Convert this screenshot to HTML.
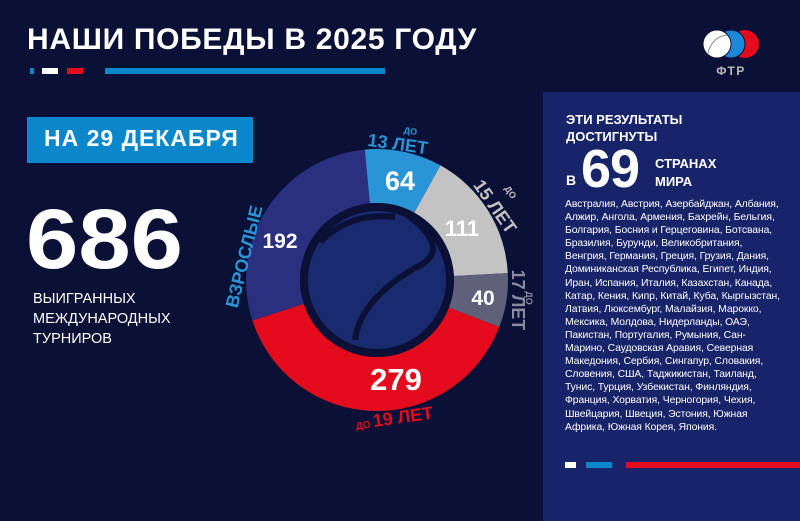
<!DOCTYPE html>
<html><head><meta charset="utf-8"><style>
html,body{margin:0;padding:0;}
body{width:800px;height:521px;background:#0b1036;position:relative;overflow:hidden;font-family:"Liberation Sans","DejaVu Sans",sans-serif;color:#fff;}
.a{position:absolute;white-space:nowrap;}
.cl{position:absolute;left:565px;top:198px;font-size:10.4px;line-height:13.1px;color:#fff;white-space:nowrap;letter-spacing:-0.1px;}
</style></head><body>
<div class="a" style="left:27px;top:23px;font-size:30px;font-weight:bold;letter-spacing:0.7px;">НАШИ ПОБЕДЫ В 2025 ГОДУ</div>
<div class="a" style="left:30px;top:68px;width:4px;height:6px;background:#0a87cb"></div>
<div class="a" style="left:42px;top:68px;width:16px;height:6px;background:#fff"></div>
<div class="a" style="left:67px;top:68px;width:16px;height:6px;background:#e30b1c"></div>
<div class="a" style="left:105px;top:68px;width:280px;height:6px;background:#0a87cb"></div>
<div class="a" style="left:27px;top:117px;width:226px;height:46px;background:#0a87cb"></div>
<div class="a" style="left:44px;top:125px;font-size:23px;font-weight:bold;letter-spacing:1px;">НА 29 ДЕКАБРЯ</div>
<div class="a" style="left:26px;top:194px;font-size:84px;font-weight:bold;line-height:90px;letter-spacing:0px;transform:scaleX(1.12);transform-origin:0 0;">686</div>
<div class="a" style="left:33px;top:289px;font-size:14.5px;line-height:20px;">ВЫИГРАННЫХ<br>МЕЖДУНАРОДНЫХ<br>ТУРНИРОВ</div>

<div class="a" style="left:543px;top:92px;width:257px;height:429px;background:#18246a"></div>
<div class="a" style="left:566px;top:111px;font-size:13px;font-weight:bold;line-height:17px;">ЭТИ РЕЗУЛЬТАТЫ<br>ДОСТИГНУТЫ</div>
<div class="a" style="left:566px;top:172px;font-size:14px;font-weight:bold;">В</div>
<div class="a" style="left:581px;top:138px;font-size:54px;font-weight:bold;letter-spacing:-1px;">69</div>
<div class="a" style="left:655px;top:155px;font-size:13px;font-weight:bold;line-height:18px;">СТРАНАХ<br>МИРА</div>
<div class="cl">Австралия, Австрия, Азербайджан, Албания,<br>Алжир, Ангола, Армения, Бахрейн, Бельгия,<br>Болгария, Босния и Герцеговина, Ботсвана,<br>Бразилия, Бурунди, Великобритания,<br>Венгрия, Германия, Греция, Грузия, Дания,<br>Доминиканская Республика, Египет, Индия,<br>Иран, Испания, Италия, Казахстан, Канада,<br>Катар, Кения, Кипр, Китай, Куба, Кыргызстан,<br>Латвия, Люксембург, Малайзия, Марокко,<br>Мексика, Молдова, Нидерланды, ОАЭ,<br>Пакистан, Португалия, Румыния, Сан-<br>Марино, Саудовская Аравия, Северная<br>Македония, Сербия, Сингапур, Словакия,<br>Словения, США, Таджикистан, Таиланд,<br>Тунис, Турция, Узбекистан, Финляндия,<br>Франция, Хорватия, Черногория, Чехия,<br>Швейцария, Швеция, Эстония, Южная<br>Африка, Южная Корея, Япония.</div>
<div class="a" style="left:565px;top:462px;width:11px;height:6px;background:#fff"></div>
<div class="a" style="left:586px;top:462px;width:26px;height:6px;background:#0a87cb"></div>
<div class="a" style="left:626px;top:462px;width:174px;height:6px;background:#e30b1c"></div>

<svg class="a" style="left:0;top:0" width="800" height="521" viewBox="0 0 800 521">
<g font-family="Liberation Sans, sans-serif" font-weight="bold">
<circle cx="745" cy="44" r="14" fill="#e30b1c"/>
<circle cx="731" cy="44" r="14" fill="#1e88d8" stroke="#0b1036" stroke-width="1"/>
<circle cx="717" cy="44" r="14" fill="#fff" stroke="#0b1036" stroke-width="1"/>
<path d="M708 53 Q712 37 727 35" stroke="#888" stroke-width="1" fill="none"/>
<text x="731" y="75" font-size="12" fill="#bbb" text-anchor="middle" letter-spacing="1.5">ФТР</text>
<path d="M364.7 149.6 A131 131 0 0 1 440.5 165.4 L414.3 212.7 A77 77 0 0 0 369.8 203.3Z" fill="#2a95d6"/>
<path d="M440.5 165.4 A131 131 0 0 1 507.8 273.1 L453.9 276 A77 77 0 0 0 414.3 212.7Z" fill="#c3c3c3"/>
<path d="M507.8 273.1 A131 131 0 0 1 499.3 327 L448.9 307.6 A77 77 0 0 0 453.9 276Z" fill="#5f6079"/>
<path d="M499.3 327 A131 131 0 0 1 252.4 320.5 L303.8 303.8 A77 77 0 0 0 448.9 307.6Z" fill="#e30b1c"/>
<path d="M252.4 320.5 A131 131 0 0 1 364.7 149.6 L369.8 203.3 A77 77 0 0 0 303.8 303.8Z" fill="#2b2f80"/>
<circle cx="377" cy="280" r="77" fill="#0b1036"/>
<circle cx="377" cy="280" r="69" fill="#1a2a6e"/>
<path d="M320 242 Q350 212 395 217" stroke="#0b1036" stroke-width="6" fill="none"/>
<path d="M406 214 Q455 250 415 268 Q360 300 355 340" stroke="#0b1036" stroke-width="6" fill="none"/>
<text x="400" y="190" font-size="27" fill="#fff" text-anchor="middle">64</text>
<text x="462" y="236" font-size="22" fill="#fff" text-anchor="middle">111</text>
<text x="483" y="305" font-size="21" fill="#fff" text-anchor="middle">40</text>
<text x="396" y="390" font-size="31" fill="#fff" text-anchor="middle">279</text>
<text x="280" y="248" font-size="21" fill="#fff" text-anchor="middle">192</text>
<text x="410" y="134" font-size="9" fill="#2a95d6" text-anchor="middle" transform="rotate(8 410 134)">ДО</text>
<text x="397" y="150" font-size="18" fill="#2a95d6" text-anchor="middle" transform="rotate(8 397 150)">13 ЛЕТ</text>
<text x="490" y="210" font-size="18" fill="#c3c3c3" text-anchor="middle" transform="rotate(55 490 210)">15 ЛЕТ</text>
<text x="508" y="194" font-size="9" fill="#c3c3c3" text-anchor="middle" transform="rotate(55 508 194)">ДО</text>
<text x="512" y="300" font-size="18" fill="#8a8ba0" text-anchor="middle" transform="rotate(90 512 300)">17 ЛЕТ</text>
<text x="526" y="298" font-size="9" fill="#8a8ba0" text-anchor="middle" transform="rotate(90 526 298)">ДО</text>
<text x="395" y="424" font-size="18" fill="#e30b1c" text-anchor="middle" transform="rotate(-8 395 424)"><tspan font-size="10">ДО </tspan>19 ЛЕТ</text>
<text x="250" y="258" font-size="18" fill="#2a95d6" text-anchor="middle" transform="rotate(-76 250 258)">ВЗРОСЛЫЕ</text>
</g>
</svg>
</body></html>
